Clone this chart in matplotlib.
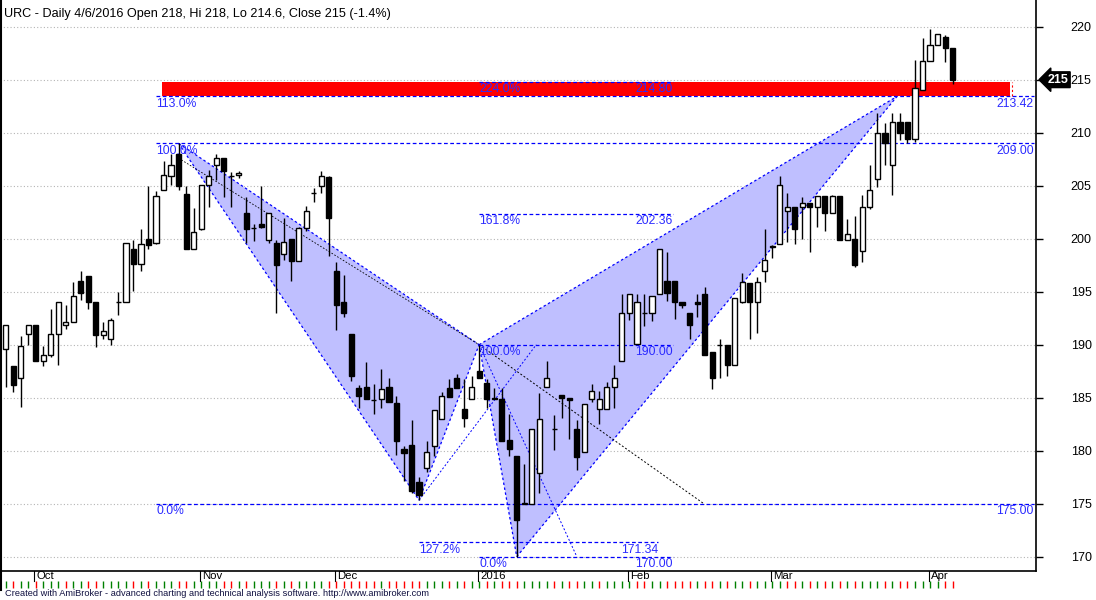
import numpy as np
import matplotlib
matplotlib.use('Agg')
import matplotlib.pyplot as plt
import matplotlib.transforms as mtransforms

plt.rcParams['font.family'] = ['Liberation Sans', 'DejaVu Sans']

# daily bars, 25 Sep 2015 .. 6 Apr 2016
opens = [189.6, 188.0, 186.9, 191.0, 191.9, 188.5, 189.0, 191.0, 191.9, 192.1,
         196.0, 196.5, 194.0, 190.9, 190.5, 194.0, 194.0, 199.0, 197.6, 200.0,
         199.6, 204.6, 205.9, 208.0, 204.2, 199.0, 200.9, 205.1, 207.0, 207.6,
         205.9, 206.0, 202.4, 201.0, 201.4, 199.9, 199.6, 198.6, 200.0, 197.9,
         201.0, 204.3, 205.0, 205.8, 197.0, 194.0, 191.0, 185.9, 186.0, 184.8,
         184.9, 186.0, 184.5, 180.2, 180.5, 177.0, 178.4, 180.4, 183.0, 185.9,
         186.9, 183.9, 184.9, 187.5, 186.4, 185.0, 184.9, 181.0, 179.5, 175.0,
         175.0, 177.9, 186.0, 182.0, 185.3, 185.0, 182.0, 179.9, 184.9, 183.9,
         183.9, 186.0, 188.5, 193.0, 190.1, 193.0, 193.0, 194.8, 196.0, 196.0,
         194.0, 193.0, 194.0, 194.8, 189.3, 190.0, 190.0, 188.1, 194.0, 195.8,
         194.0, 197.0, 199.2, 199.5, 202.6, 203.0, 203.0, 203.4, 203.0, 204.0,
         202.4, 204.0, 199.9, 200.0, 198.8, 203.0, 205.6, 210.0, 207.0, 211.0,
         211.0, 209.4, 214.0, 216.8, 218.3, 219.0, 218.0]
highs = [191.9, 188.0, 190.8, 191.9, 191.9, 189.9, 193.4, 194.0, 193.7, 195.9,
         197.0, 196.5, 194.0, 192.1, 192.5, 195.0, 199.6, 199.9, 200.9, 205.0,
         204.5, 207.3, 208.0, 209.0, 205.0, 202.9, 205.1, 206.5, 208.0, 207.6,
         206.3, 206.4, 203.9, 201.4, 205.0, 202.4, 199.9, 202.0, 200.0, 201.1,
         203.1, 204.8, 206.4, 205.9, 197.8, 196.6, 191.0, 186.2, 188.4, 186.3,
         187.7, 186.9, 185.2, 180.4, 182.9, 177.5, 180.9, 183.8, 185.5, 186.8,
         187.2, 186.8, 187.0, 190.0, 186.8, 185.9, 185.9, 183.5, 179.5, 178.7,
         182.0, 185.4, 188.5, 183.4, 185.3, 185.0, 182.9, 184.4, 186.3, 185.6,
         186.5, 188.1, 194.8, 194.8, 194.8, 194.8, 194.6, 199.0, 198.7, 196.0,
         194.0, 193.0, 194.8, 195.4, 189.3, 190.5, 190.0, 194.4, 196.8, 195.8,
         196.4, 200.9, 199.4, 205.9, 204.3, 203.0, 203.9, 203.4, 204.0, 204.0,
         204.1, 204.0, 201.9, 202.1, 204.1, 207.0, 211.9, 210.9, 211.9, 211.9,
         211.0, 216.9, 218.9, 219.8, 219.3, 219.2, 218.0]
lows = [186.0, 185.5, 184.1, 190.0, 188.5, 188.0, 188.8, 188.1, 191.5, 192.1,
        194.2, 193.4, 189.8, 190.5, 190.0, 192.8, 194.0, 195.1, 197.0, 199.0,
        199.5, 204.6, 205.1, 204.6, 199.0, 199.0, 200.8, 203.0, 205.5, 203.9,
        203.0, 205.7, 199.6, 199.8, 201.0, 199.6, 193.0, 198.0, 196.0, 197.9,
        200.7, 203.5, 204.3, 198.4, 191.4, 192.6, 186.6, 184.0, 184.9, 183.5,
        184.0, 184.6, 179.6, 177.1, 176.0, 175.33, 178.0, 179.5, 183.0, 185.1,
        185.9, 182.2, 184.9, 186.9, 184.0, 184.9, 180.9, 179.5, 170.0, 175.0,
        175.0, 176.0, 186.0, 180.1, 183.1, 181.1, 178.2, 179.9, 184.6, 182.5,
        183.9, 184.0, 188.5, 192.3, 190.1, 191.8, 192.2, 194.8, 194.1, 192.4,
        193.5, 190.5, 192.6, 189.0, 185.8, 186.9, 187.0, 188.1, 193.9, 190.5,
        191.1, 195.9, 198.2, 199.5, 199.7, 199.5, 200.0, 198.7, 201.1, 200.7,
        202.4, 199.9, 199.9, 197.3, 197.8, 202.8, 204.9, 207.0, 204.1, 209.3,
        209.0, 209.1, 214.0, 216.8, 218.3, 216.7, 214.6]
closes = [191.9, 186.2, 189.9, 191.9, 188.5, 189.0, 191.0, 194.0, 192.1, 194.6,
          194.9, 194.0, 190.9, 191.3, 192.3, 194.0, 199.6, 197.6, 199.5, 199.4,
          204.0, 206.0, 207.0, 205.0, 199.0, 200.6, 205.1, 205.9, 207.6, 206.4,
          205.9, 206.2, 200.9, 201.0, 201.1, 202.4, 197.5, 199.7, 197.9, 201.0,
          202.6, 204.3, 205.9, 202.0, 193.7, 193.0, 187.0, 185.2, 184.9, 184.8,
          185.8, 184.6, 180.9, 179.8, 176.2, 175.8, 179.9, 183.8, 185.2, 185.1,
          185.9, 183.1, 186.0, 186.9, 184.9, 184.9, 180.9, 180.2, 173.5, 175.1,
          182.0, 183.0, 186.9, 182.0, 185.0, 184.8, 179.4, 184.4, 185.6, 184.9,
          186.0, 186.9, 193.0, 194.8, 194.0, 193.0, 194.6, 199.0, 194.9, 194.0,
          193.7, 191.9, 193.8, 189.0, 186.9, 190.0, 188.1, 194.4, 195.9, 194.0,
          195.9, 198.0, 199.3, 205.1, 203.0, 200.9, 203.4, 203.0, 204.0, 202.4,
          204.0, 199.9, 200.4, 197.5, 203.0, 204.6, 210.0, 209.0, 211.0, 210.0,
          209.4, 214.2, 216.8, 218.3, 219.3, 218.0, 215.0]

# trading days per month (Sep tail, Oct .. Apr)
month_names = ['', 'Oct', 'Nov', 'Dec', '2016', 'Feb', 'Mar', 'Apr']
month_counts = [4, 22, 18, 19, 20, 19, 21, 4]

# harmonic pattern X, A, B, C, D (bar index, price)
pat_x = [23, 55, 63, 68, 118.6]
pat_y = [209.0, 175.33, 190.0, 170.0, 213.42]

# fibonacci levels
xa_levels = [213.42, 209.00, 175.00]
xa_labels = ['113.0%', '100.0%', '0.0%']
xa_start = 20
bc_levels = [214.80, 202.36, 190.00, 170.00]
bc_labels = ['224.0%', '161.8%', '100.0%', '0.0%']
bc_span = [63, 88.8]
ab_level = 171.34
ab_label = '127.2%'
ab_span = [55, 86.8]
prz = [213.42, 214.80]
prz_span = [20.8, 133.6]

o = np.array(opens); h = np.array(highs); l = np.array(lows); c = np.array(closes)
x = np.arange(len(c))

W, H = 1096, 600
fig = plt.figure(figsize=(W / 100, H / 100), dpi=100)
ax = fig.add_axes([0, 29 / H, 1036 / W, 571 / H])
ax.set_xlim(-0.76, 137.1)
ax.set_ylim(168.65, 222.52)

blue = '#0000ff'
tblue = '#2b2bff'

# grid
for p in range(170, 221, 5):
    ax.axhline(p, color='#b4b4b4', lw=0.8, ls=(0, (1, 2)), zorder=0)

# PRZ band
ax.fill_between(prz_span, prz[0], prz[1], color='#ff0000', lw=0, zorder=1)
ax.plot([prz_span[1] + 0.3] * 2, prz, color='#ff0000', lw=0.8, ls=(0, (2, 2)), zorder=1)

# pattern triangles
px, py = pat_x, pat_y
ax.fill([px[0], px[1], px[2]], [py[0], py[1], py[2]], color='#bfbfff', lw=0, zorder=1)
ax.fill([px[2], px[3], px[4]], [py[2], py[3], py[4]], color='#bfbfff', lw=0, zorder=1)
edge = dict(color=blue, lw=0.9, ls=(0, (2, 2)), zorder=2)
for i, j in [(0, 1), (1, 2), (0, 2), (2, 3), (3, 4), (2, 4)]:
    ax.plot([px[i], px[j]], [py[i], py[j]], **edge)
# ratio lines
ax.plot([px[0], px[2]], [py[0] - 1.4, py[2]], color='black', lw=0.6, ls=(0, (2, 2)), zorder=2)
ax.plot([px[2], 92.9], [py[2], 175.0], color='black', lw=0.7, ls=(0, (2, 2)), zorder=2)
ax.plot([px[2], 76.0], [py[2], 170.0], color=blue, lw=0.7, ls=(0, (2, 2)), zorder=2)
ax.plot([px[1], 70.6], [py[1], 190.0], color=blue, lw=0.7, ls=(0, (2, 2)), zorder=2)

# fib lines
fib = dict(color=blue, lw=0.9, ls=(0, (3, 2)), zorder=2)
xr = ax.get_xlim()[1] - 0.3
for lv, lb in zip(xa_levels, xa_labels):
    ax.plot([xa_start, xr], [lv, lv], **fib)
    ax.text(xa_start, lv - 0.15, lb, color=tblue, fontsize=8.7, ha='left', va='top', zorder=6)
    ax.text(xr, lv - 0.15, '%.2f' % lv, color=tblue, fontsize=8.7, ha='right', va='top', zorder=6)
for lv, lb in zip(bc_levels, bc_labels):
    ax.plot(bc_span, [lv, lv], **fib)
    ax.text(bc_span[0], lv - 0.15, lb, color=tblue, fontsize=8.7, ha='left', va='top', zorder=6)
    ax.text(bc_span[1], lv - 0.15, '%.2f' % lv, color=tblue, fontsize=8.7, ha='right', va='top', zorder=6)
ax.plot(ab_span, [ab_level, ab_level], **fib)
ax.text(ab_span[0], ab_level - 0.15, ab_label, color=tblue, fontsize=8.7, ha='left', va='top', zorder=6)
ax.text(ab_span[1], ab_level - 0.15, '%.2f' % ab_level, color=tblue, fontsize=8.7, ha='right', va='top', zorder=6)

# candles
ax.vlines(x, l, h, color='black', lw=1, zorder=3)
up = c >= o
bottom = np.minimum(o, c)
height = np.abs(c - o)
ax.bar(x[up], height[up], bottom=bottom[up], width=0.68, facecolor='white',
       edgecolor='black', lw=1, zorder=4)
ax.bar(x[~up], height[~up], bottom=bottom[~up], width=0.68, facecolor='black',
       edgecolor='black', lw=1, zorder=4)

# axes styling
ax.spines['top'].set_visible(False)
ax.spines['left'].set_linewidth(1.5)
ax.spines['right'].set_linewidth(1.2)
ax.spines['bottom'].set_linewidth(1.2)
ax.set_xticks([])
ax.yaxis.tick_right()
ax.set_yticks(range(170, 221, 5))
ax.tick_params(axis='y', direction='out', length=5, width=1, pad=20, labelsize=9)

# title
ax.text(4 / 1036, 0.986, 'URC - Daily 4/6/2016 Open 218, Hi 218, Lo 214.6, Close 215 (-1.4%)',
        transform=ax.transAxes, fontsize=9.1, ha='left', va='top', zorder=6)

# last price marker
tr = mtransforms.blended_transform_factory(ax.transAxes, ax.transData)
ax.text(1.011, c[-1], '%d' % round(c[-1]), transform=tr, color='white', fontsize=9,
        fontweight='bold', ha='left', va='center', clip_on=False, zorder=7,
        bbox=dict(boxstyle='larrow,pad=0.15', fc='black', ec='black'))

# date strip
sx = fig.add_axes([0, 10 / H, 1036 / W, 19 / H])
sx.set_xlim(ax.get_xlim())
sx.set_ylim(0, 1)
sx.axis('off')
starts = np.cumsum([0] + month_counts[:-1])
for st, nm in zip(starts, month_names):
    if nm:
        sx.plot([st - 0.2, st - 0.2], [1, 0.45], color='black', lw=0.8)
        sx.text(st + 0.1, 1.0, nm, fontsize=8.2, ha='left', va='top')
prev = np.concatenate([[c[0]], c[:-1]])
cols = np.where(c >= prev, '#008000', '#ff0000')
sx.vlines(x, 0.1, 0.5, colors=cols, lw=1)

fig.text(5 / W, 1 - 594 / H, 'Created with AmiBroker - advanced charting and technical analysis software. http://www.amibroker.com',
         fontsize=6.7, color='#101040', ha='left', va='center')
fig.add_artist(plt.Line2D([0.5 / W, 0.5 / W], [10 / H, 1], color='black', lw=1.5))

fig.savefig('out.png', dpi=100)
